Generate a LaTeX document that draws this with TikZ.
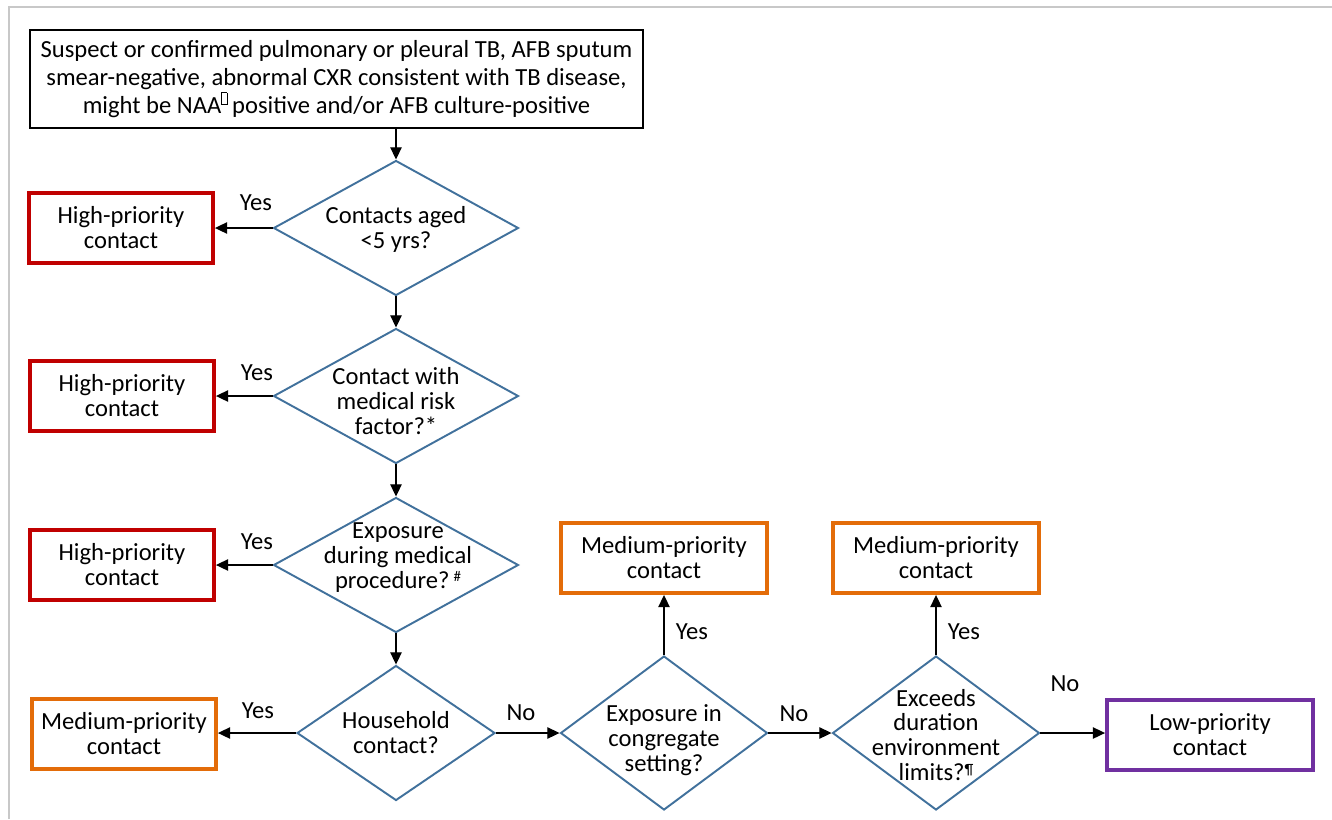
\documentclass[tikz,border=0pt]{standalone}
\usepackage{fontspec}
\setmainfont{Carlito}
\usetikzlibrary{shapes.geometric,arrows.meta}
\definecolor{dblue}{HTML}{41719C}
\definecolor{hred}{HTML}{C00000}
\definecolor{morange}{HTML}{E36C09}
\definecolor{lpurple}{HTML}{7030A0}
\definecolor{frame}{HTML}{C8C8C8}
\newcommand{\missingglyph}{\textsuperscript{\fboxsep=0pt\fboxrule=0.4pt\framebox[0.35em]{\rule{0pt}{0.65em}}}}
\newcommand{\smallsup}[1]{\raisebox{0.28em}{\fontsize{8.5}{8.5}\selectfont #1}}
\begin{document}
\begin{tikzpicture}[x=0.02cm,y=-0.02cm,
  font=\fontsize{14}{14}\selectfont,
  pbox/.style={draw, line width=2.2pt, align=center, inner sep=0pt, minimum height=1.4cm,
    font=\fontsize{14}{14.2}\selectfont},
  highbox/.style={pbox, draw=hred, minimum width=3.68cm},
  medbox/.style={pbox, draw=morange, minimum width=4.12cm},
  medleft/.style={pbox, draw=morange, minimum width=3.68cm},
  lowbox/.style={pbox, draw=lpurple, minimum width=4.12cm},
  dec/.style={diamond, draw=dblue, line width=1.1pt, inner sep=0pt, aspect=1},
  dtext/.style={align=center, font=\fontsize{14}{14.2}\selectfont},
  arr/.style={draw, line width=0.8pt, -{Triangle[length=7pt,width=6.5pt]}},
  lbl/.style={inner sep=0pt}
]
\useasboundingbox (0,0) rectangle (1332,819);
\draw[frame, line width=1.2pt] (9,819) -- (9,7) -- (1332,7);

% top box
\node[draw, line width=0.9pt, minimum width=12.26cm, minimum height=1.96cm, align=center,
  font=\fontsize{14}{15.9}\selectfont, inner sep=0pt] (top) at (336.5,79)
  {Suspect or confirmed pulmonary or pleural TB, AFB sputum\\
   smear-negative, abnormal CXR consistent with TB disease,\\
   might be NAA\missingglyph\,positive and/or AFB culture-positive};

% diamonds
\node[dec, minimum width=4.9cm, minimum height=2.7cm] (d1) at (396,228) {};
\node[dtext] (t1) at (396,229) {Contacts aged\\<5 yrs?};
\node[dec, minimum width=4.9cm, minimum height=2.7cm] (d2) at (396,396) {};
\node[dtext] (t2) at (396,401) {Contact with\\medical risk\\factor?*};
\node[dec, minimum width=4.9cm, minimum height=2.7cm] (d3) at (396,565) {};
\node[dtext] (t3) at (398,558) {Exposure\\during medical\\procedure?\,\smallsup{\#}};
\node[dec, minimum width=3.96cm, minimum height=2.7cm] (d4) at (396,733) {};
\node[dtext] (t4) at (396,733) {Household\\contact?};
\node[dec, minimum width=4.14cm, minimum height=3.08cm] (d5) at (664,733) {};
\node[dtext] (t5) at (664,740) {Exposure in\\congregate\\setting?};
\node[dec, minimum width=4.14cm, minimum height=3.08cm] (d6) at (936,733) {};
\node[dtext] (t6) at (936,735) {Exceeds\\duration\\environment\\limits?\smallsup{¶}};

% outcome boxes
\node[highbox] (h1) at (121,228) {High-priority\\contact};
\node[highbox] (h2) at (122,396) {High-priority\\contact};
\node[highbox] (h3) at (122,565) {High-priority\\contact};
\node[medleft] (m1) at (124,734) {Medium-priority\\contact};
\node[medbox] (m2) at (664,558) {Medium-priority\\contact};
\node[medbox] (m3) at (936,558) {Medium-priority\\contact};
\node[lowbox] (lo) at (1210,735) {Low-priority\\contact};

% connectors
\draw[arr] (top.south -| d1.north) -- (d1.north);
\draw[arr] (d1.south) -- (d2.north);
\draw[arr] (d2.south) -- (d3.north);
\draw[arr] (d3.south) -- (d4.north);
\draw[arr] (d1.west) -- (h1.east);
\draw[arr] (d2.west) -- (h2.east);
\draw[arr] (d3.west) -- (h3.east);
\draw[arr] (d4.west) -- (m1.east |- d4.west);
\draw[arr] (d4.east) -- (d5.west);
\draw[arr] (d5.east) -- (d6.west);
\draw[arr] (d6.east) -- (lo.west |- d6.east);
\draw[arr] (d5.north) -- (m2.south);
\draw[arr] (d6.north) -- (m3.south);

% labels
\node[lbl] (y1) at (256,203) {Yes};
\node[lbl] (y2) at (257,373) {Yes};
\node[lbl] (y3) at (257,542) {Yes};
\node[lbl] (y4) at (258,711) {Yes};
\node[lbl] (y5) at (692,632) {Yes};
\node[lbl] (y6) at (964,632) {Yes};
\node[lbl] (n1) at (521,713) {No};
\node[lbl] (n2) at (794,714) {No};
\node[lbl] (n3) at (1065,684) {No};
\end{tikzpicture}
\end{document}
